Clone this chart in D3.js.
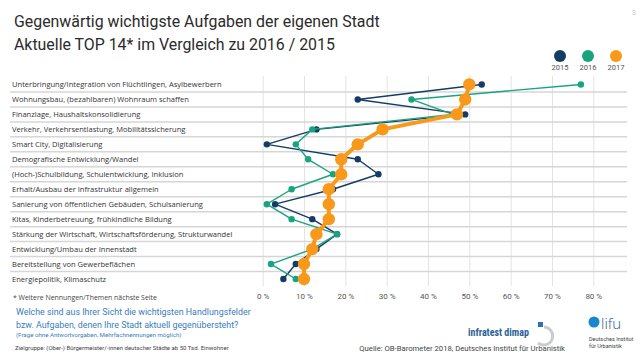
<!DOCTYPE html>
<html><head><meta charset="utf-8">
<script src="https://cdn.jsdelivr.net/npm/d3@7"></script>
<style>
html,body{margin:0;padding:0;background:#fff;}
svg{display:block;font-family:Roboto,"Liberation Sans",sans-serif;}
</style></head>
<body>
<svg id="c" width="640" height="358"></svg>
<script>
const categories = [
  "Unterbringung/Integration von Flüchtlingen, Asylbewerbern",
  "Wohnungsbau, (bezahlbaren) Wohnraum schaffen",
  "Finanzlage, Haushaltskonsolidierung",
  "Verkehr, Verkehrsentlastung, Mobilitätssicherung",
  "Smart City, Digitalisierung",
  "Demografische Entwicklung/Wandel",
  "(Hoch-)Schulbildung, Schulentwicklung, Inklusion",
  "Erhalt/Ausbau der Infrastruktur allgemein",
  "Sanierung von öffentlichen Gebäuden, Schulsanierung",
  "Kitas, Kinderbetreuung, frühkindliche Bildung",
  "Stärkung der Wirtschaft, Wirtschaftsförderung, Strukturwandel",
  "Entwicklung/Umbau der Innenstadt",
  "Bereitstellung von Gewerbeflächen",
  "Energiepolitik, Klimaschutz"
];
const v2015 = [53, 23, 49, 13, 1, 23, 28, 17, 3, 12, 18, 13, 8, 5];
const v2016 = [77, 36, 46, 12, 8, 11, 17, 7, 1, 7, 18, 12, 2, 8];
const v2017 = [50, 49, 47, 29, 23, 19, 19, 16, 16, 16, 13, 12, 10, 10];
const seriesNames = ["2015", "2016", "2017"];
const xTicks = [0, 10, 20, 30, 40, 50, 60, 70, 80];

const colors = {"2015": "#133c66", "2016": "#17a47f", "2017": "#f8991c"};
const series = [
  {name: "2015", values: v2015, r: 3.2, w: 1.4},
  {name: "2016", values: v2016, r: 3.2, w: 1.4},
  {name: "2017", values: v2017, r: 6.2, w: 4}
];

const svg = d3.select("#c");
const x = d3.scaleLinear().domain([0, 80]).range([262.7, 593.3]);
const y = d3.scaleBand().domain(categories).range([77, 286.5]).paddingInner(0).paddingOuter(0);
const yc = c => y(c) + y.bandwidth() / 2;

// scale a text element's font so it spans the given width
function fit(sel, width) {
  const fs = +sel.attr("font-size");
  const w = sel.node().getComputedTextLength();
  if (w > 0) sel.attr("font-size", fs * width / w);
  return sel;
}

// title
const t1 = svg.append("text").attr("x", 14).attr("y", 27).attr("font-size", 16).attr("fill", "#2b2b2b")
  .text("Gegenwärtig wichtigste Aufgaben der eigenen Stadt");
fit(t1, 366);
const t2 = svg.append("text").attr("x", 14).attr("y", 49.5).attr("font-size", +t1.attr("font-size")).attr("fill", "#2b2b2b")
  .text("Aktuelle TOP 14* im Vergleich zu 2016 / 2015");
svg.append("text").attr("x", 632).attr("y", 15).attr("font-size", 7).attr("fill", "#c4c4c4").text("3");

// vertical grid via axis
const axis = d3.axisBottom(x).tickValues(xTicks).tickFormat(d => d + " %")
  .tickSizeInner(-210).tickSizeOuter(0).tickPadding(7);
const gx = svg.append("g").attr("transform", "translate(0,286)").call(axis);
gx.select(".domain").remove();
gx.selectAll(".tick line").attr("stroke", "#e3e3e3").attr("stroke-width", 1);
gx.selectAll(".tick text").attr("fill", "#555").attr("font-size", 8).attr("font-family", "Roboto, sans-serif");

// horizontal separators
svg.append("g").selectAll("line").data(categories.slice(1)).join("line")
  .attr("x1", 10).attr("x2", 627)
  .attr("y1", d => y(d)).attr("y2", d => y(d))
  .attr("stroke", "#d6d6d6").attr("stroke-width", 1.5);

// category labels
const labels = svg.append("g").attr("font-family", "'Open Sans', sans-serif")
  .selectAll("text").data(categories).join("text")
  .attr("x", 12).attr("y", d => yc(d) + 3).attr("font-size", 8).attr("fill", "#333")
  .text(d => d);
const l0 = d3.select(labels.nodes()[0]);
fit(l0, 210);
labels.attr("font-size", +l0.attr("font-size"));

// series
const line = d3.line().x(d => x(d.v)).y(d => yc(d.c));
series.forEach(s => {
  const pts = s.values.map((v, i) => ({v, c: categories[i]}));
  const g = svg.append("g");
  g.append("path").datum(pts).attr("d", line).attr("fill", "none")
    .attr("stroke", colors[s.name]).attr("stroke-width", s.w).attr("stroke-linejoin", "round");
  g.selectAll("circle").data(pts).join("circle")
    .attr("cx", d => x(d.v)).attr("cy", d => yc(d.c)).attr("r", s.r).attr("fill", colors[s.name]);
});

// legend
const lx = d3.scalePoint().domain(seriesNames).range([560, 616]);
const lg = svg.append("g");
lg.selectAll("circle").data(seriesNames).join("circle")
  .attr("cx", d => lx(d)).attr("cy", 56).attr("r", 6).attr("fill", d => colors[d]);
lg.selectAll("text").data(seriesNames).join("text")
  .attr("x", d => lx(d)).attr("y", 70).attr("text-anchor", "middle").attr("font-size", 7.5)
  .attr("fill", "#555").text(d => d);

// footer
fit(svg.append("text").attr("x", 13).attr("y", 300).attr("font-size", 7).attr("fill", "#444")
  .attr("font-family", "'Open Sans', sans-serif").text("* Weitere Nennungen/Themen nächste Seite"), 144);
const q1 = svg.append("text").attr("x", 16).attr("y", 315).attr("font-size", 10).attr("fill", "#3a7dbd")
  .text("Welche sind aus Ihrer Sicht die wichtigsten Handlungsfelder");
fit(q1, 235);
svg.append("text").attr("x", 16).attr("y", 328).attr("font-size", +q1.attr("font-size")).attr("fill", "#3a7dbd")
  .text("bzw. Aufgaben, denen Ihre Stadt aktuell gegenübersteht?");
fit(svg.append("text").attr("x", 16).attr("y", 337).attr("font-size", 6).attr("fill", "#3a7dbd")
  .text("(Frage ohne Antwortvorgaben, Mehrfachnennungen möglich)"), 166);
fit(svg.append("text").attr("x", 15).attr("y", 350).attr("font-size", 6).attr("fill", "#444")
  .text("Zielgruppe: (Ober-) Bürgermeister/-innen deutscher Städte ab 50 Tsd. Einwohner"), 214);
svg.append("text").attr("x", 565).attr("y", 351).attr("text-anchor", "end").attr("font-size", 7.7).attr("fill", "#444")
  .text("Quelle: OB-Barometer 2018, Deutsches Institut für Urbanistik");

// infratest dimap logo
svg.append("text").attr("x", 468).attr("y", 336).attr("font-size", 10).attr("font-weight", "bold")
  .attr("fill", "#2c5f95").attr("font-family", "'Liberation Sans Narrow','Roboto Condensed',Roboto,sans-serif")
  .text("infratest dimap");
const lgo = svg.append("g");
lgo.append("rect").attr("x", 538).attr("y", 322).attr("width", 5).attr("height", 5).attr("fill", "#2c6fb7");
lgo.append("path").attr("d", "M544,327 A9,9 0 1,1 538,343").attr("fill", "none")
  .attr("stroke", "#c8cdd3").attr("stroke-width", 3);

// difu logo
svg.append("circle").attr("cx", 594).attr("cy", 322).attr("r", 5.5).attr("fill", "#1a86d0");
svg.append("text").attr("x", 601).attr("y", 329).attr("font-size", 15).attr("fill", "#1f5d93")
  .attr("font-family", "'Open Sans', sans-serif").attr("font-weight", 300).text("lifu");
svg.append("text").attr("x", 589).attr("y", 341).attr("font-size", 5.5).attr("fill", "#444").text("Deutsches Institut");
svg.append("text").attr("x", 589).attr("y", 348).attr("font-size", 5.5).attr("fill", "#444").text("für Urbanistik");
</script>
</body></html>
